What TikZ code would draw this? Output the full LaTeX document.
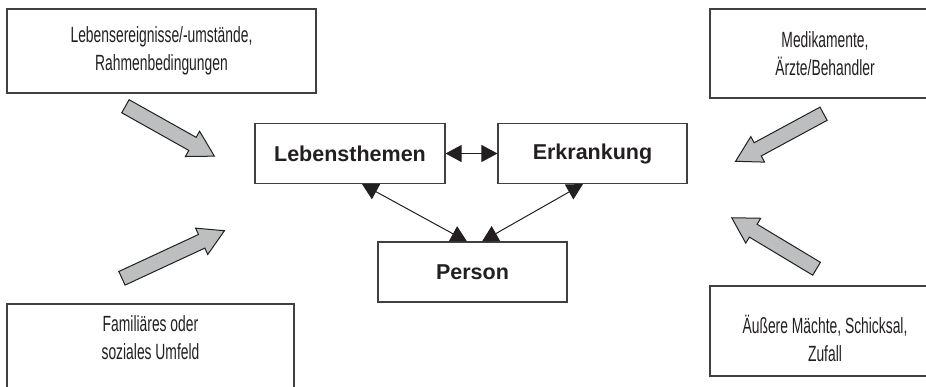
\documentclass[tikz,border=0pt]{standalone}
\usepackage{fontspec}
\setmainfont{Liberation Sans}
\newfontfamily\condfont[FakeStretch=0.63]{Liberation Sans}
\usepackage{xcolor}
\usetikzlibrary{shapes.arrows, arrows.meta}
\usetikzlibrary{positioning}

\definecolor{arrowgray}{HTML}{BCBEC0}
\definecolor{inkblack}{HTML}{231F20}

\tikzset{
  outerbox/.style={draw=black!75, line width=1.1pt, align=center, text=inkblack,
    font=\condfont\fontsize{22}{28}\selectfont},
  innerbox/.style={draw=black!75, line width=1.1pt, minimum width=189pt, minimum height=60pt,
    text=inkblack, font=\fontsize{21.5}{26}\selectfont\bfseries},
  bigarrow/.style={single arrow, draw=inkblack, fill=arrowgray, line width=1pt,
    inner sep=7pt, minimum width=0pt, single arrow head extend=7pt,
    single arrow tip angle=60, anchor=tail, minimum height=#1},
  link/.style={draw=inkblack, line width=1pt, {Triangle[length=16pt,width=17pt]}-{Triangle[length=16pt,width=17pt]}}
}

\begin{document}
\begin{tikzpicture}[x=1pt, y=-1pt]
\useasboundingbox (0,0) rectangle (926,386);
\node[outerbox, minimum width=309pt, minimum height=84pt] (ereig) at (161.5,51) {Lebensereignisse/-umstände,\\Rahmenbedingungen};
\node[outerbox, minimum width=230pt, minimum height=89pt] (medik) at (825,53.5) {Medikamente,\\Ärzte/Behandler};
\node[outerbox, minimum width=287pt, minimum height=96pt,
  label={[outerbox, draw=none, yshift=14pt]center:{Familiäres oder\\soziales Umfeld}}] (umfeld) at (150.5,352) {};
\node[outerbox, minimum width=230pt, minimum height=90pt,
  label={[outerbox, draw=none, yshift=-7pt]center:{Äußere Mächte, Schicksal,\\Zufall}}] (maechte) at (825,331) {};

\node[innerbox, minimum width=190pt] (themen) at (350,153.5) {Lebensthemen};
\node[innerbox] (erkr) at (592.5,153.5) {Erkrankung};
\node[innerbox] (person) at (472.5,272) {Person};

\draw[link] (themen.east) -- (erkr.west);
\draw[link] ([xshift=12pt]themen.south) -- ([xshift=-5.5pt]person.north);
\draw[link] ([xshift=-9.5pt]erkr.south) -- ([xshift=9.5pt]person.north);

\node[bigarrow=102pt, rotate=-29.3] (arrEreig) at (125,106) {};
\node[bigarrow=113pt, rotate=24.9] (arrUmfeld) at (121.5,278.5) {};
\node[bigarrow=100pt, rotate=-151.6] (arrMedik) at (824,113.5) {};
\node[bigarrow=99pt, rotate=149] (arrMaechte) at (817,269) {};
\end{tikzpicture}
\end{document}
